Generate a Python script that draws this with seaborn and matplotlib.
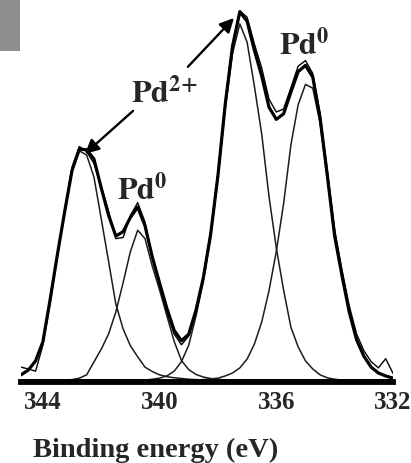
import matplotlib
matplotlib.use('Agg')
import pandas as pd
import matplotlib.pyplot as plt
import seaborn as sns
from matplotlib.patches import Rectangle

# binding energy grid (eV)
energy = [344.75, 344.5, 344.25, 344.0, 343.75, 343.5, 343.25, 343.0, 342.75, 342.5,
          342.25, 342.0, 341.75, 341.5, 341.25, 341.0, 340.75, 340.5, 340.25, 340.0,
          339.75, 339.5, 339.25, 339.0, 338.75, 338.5, 338.25, 338.0, 337.75, 337.5,
          337.25, 337.0, 336.75, 336.5, 336.25, 336.0, 335.75, 335.5, 335.25, 335.0,
          334.75, 334.5, 334.25, 334.0, 333.75, 333.5, 333.25, 333.0, 332.75, 332.5,
          332.25, 332.0]

# fitted components (arb. units)
pd2_32 = [1.4, 2.7, 5.2, 10.4, 22, 34.3, 46, 57, 62.4, 61.3,
          55.3, 43.9, 32.4, 20.7, 13.9, 9.3, 6.3, 3.5, 2.3, 1.4,
          0.9, 0.6, 0.4, 0.2, 0.1, 0, 0, 0, 0, 0,
          0, 0, 0, 0, 0, 0, 0, 0, 0, 0,
          0, 0, 0, 0, 0, 0, 0, 0, 0, 0,
          0, 0]
pd0_32 = [0, 0, 0, 0, 0, 0, 0, 0.1, 0.5, 1.4,
          4.9, 8.4, 12.5, 18.5, 26.5, 35, 40.8, 38.5, 31, 24.5,
          17.5, 10.5, 5.3, 2.8, 1.5, 0.8, 0.4, 0.2, 0, 0,
          0, 0, 0, 0, 0, 0, 0, 0, 0, 0,
          0, 0, 0, 0, 0, 0, 0, 0, 0, 0,
          0, 0]
pd2_52 = [0, 0, 0, 0, 0, 0, 0, 0, 0, 0,
          0, 0, 0, 0, 0, 0, 0, 0, 0.2, 0.5,
          1.1, 2.4, 5.0, 9.5, 17.5, 27, 39, 55, 74, 89,
          97, 92, 80, 67, 50, 36, 24.5, 14.4, 9, 5.2,
          3, 1.4, 0.6, 0.2, 0, 0, 0, 0, 0, 0,
          0, 0]
pd0_52 = [0, 0, 0, 0, 0, 0, 0, 0, 0, 0,
          0, 0, 0, 0, 0, 0, 0, 0, 0, 0,
          0, 0, 0, 0, 0, 0.1, 0.3, 0.5, 1.1, 1.9,
          3.3, 5.7, 9.8, 15.8, 24.3, 35, 48, 64, 75, 80.5,
          79.5, 70, 55, 39, 28.5, 18.5, 11, 6.5, 3.5, 1.9,
          1.1, 0.5]

# envelope of the fit
envelope = [1.4, 2.7, 5.2, 10.4, 22, 34.3, 46, 57.1, 62.9, 62.7,
            60.2, 52.3, 44.9, 39.2, 40.4, 44.3, 47.1, 42.0, 33.5, 26.4,
            19.5, 13.5, 10.7, 12.5, 19.1, 27.9, 39.7, 55.7, 75.1, 90.9,
            100.3, 97.7, 89.8, 82.8, 74.3, 71, 72.5, 78.4, 84, 85.7,
            82.5, 71.4, 55.6, 39.2, 28.5, 18.5, 11, 6.5, 3.5, 1.9,
            1.1, 0.5]

# measured spectrum
measured = [3.5, 3.0, 2.4, 9.5, 21, 34, 46.5, 58, 63.6, 62.2,
            59, 52.8, 46, 38.5, 38.8, 44.8, 48.3, 43.0, 33.5, 25.8,
            18.5, 12.5, 9.6, 12, 18.5, 28.2, 40.5, 56.5, 76, 91.5,
            100.6, 98.8, 91.5, 85, 76.5, 73, 73.8, 79.6, 85.5, 87.0,
            83.5, 72.5, 57, 41, 30, 20.2, 12.6, 8, 5, 3.3,
            5.8, 1.8]

tick_values = [344, 340, 336, 332]
tick_labels = ['344', '340', '336', '332']
minor_values = [343, 342, 341, 339, 338, 337, 335, 334, 333]

sns.set_style('white')
plt.rcParams['font.family'] = ['Liberation Serif', 'DejaVu Serif']
plt.rcParams['mathtext.fontset'] = 'stix'

fig = plt.figure(figsize=(4.11, 4.64), dpi=100)
ax = fig.add_axes([21 / 411, 81 / 464, 372 / 411, 375 / 464])

for comp in [pd2_32, pd0_32, pd2_52, pd0_52]:
    sns.lineplot(x=energy, y=comp, ax=ax, color='#1c1c1c', lw=1.1)
sns.lineplot(x=energy, y=measured, ax=ax, color='black', lw=1.0)
sns.lineplot(x=energy, y=envelope, ax=ax, color='black', lw=2.3)

ax.set_xlim(344.75, 332.0)
ax.set_ylim(-0.55, 101.6)

for s in ['top', 'left', 'right']:
    ax.spines[s].set_visible(False)
ax.spines['bottom'].set_linewidth(4.2)
ax.spines['bottom'].set_color('black')

ax.set_xticks(tick_values)
ax.set_xticklabels(tick_labels, fontweight='bold', fontsize=18)
ax.set_xticks(minor_values, minor=True)
ax.tick_params(axis='x', which='major', direction='out', length=6, width=3, pad=0, color='black')
ax.tick_params(axis='x', which='minor', direction='out', length=4, width=2, color='black')
ax.set_yticks([])
ax.set_xlabel('')
ax.set_ylabel('')

# labels and arrows
ax.text(340.98, 75.7, r'$\mathbf{Pd}^{\mathbf{2{+}}}$', fontsize=23, ha='left', va='baseline')
ax.text(341.45, 49.3, r'$\mathbf{Pd}^{\mathbf{0}}$', fontsize=23, ha='left', va='baseline')
ax.text(335.92, 88.8, r'$\mathbf{Pd}^{\mathbf{0}}$', fontsize=23, ha='left', va='baseline')
arrow = dict(arrowstyle='-|>', color='black', lw=1.7, mutation_scale=21, shrinkA=0, shrinkB=0)
ax.annotate('', xy=(342.56, 61.6), xytext=(340.91, 73.3), arrowprops=arrow)
ax.annotate('', xy=(337.45, 98.6), xytext=(339.03, 85.3), arrowprops=arrow)

fig.text(33 / 411, 7 / 464, 'Binding energy (eV)', fontsize=20.5, fontweight='bold',
         ha='left', va='baseline')

# grey corner from the original crop
fig.patches.append(Rectangle((0, 1 - 52 / 464), 20 / 411, 52 / 464,
                             transform=fig.transFigure, facecolor='#8e8e8e', edgecolor='none'))

fig.savefig('out.png', dpi=100)
